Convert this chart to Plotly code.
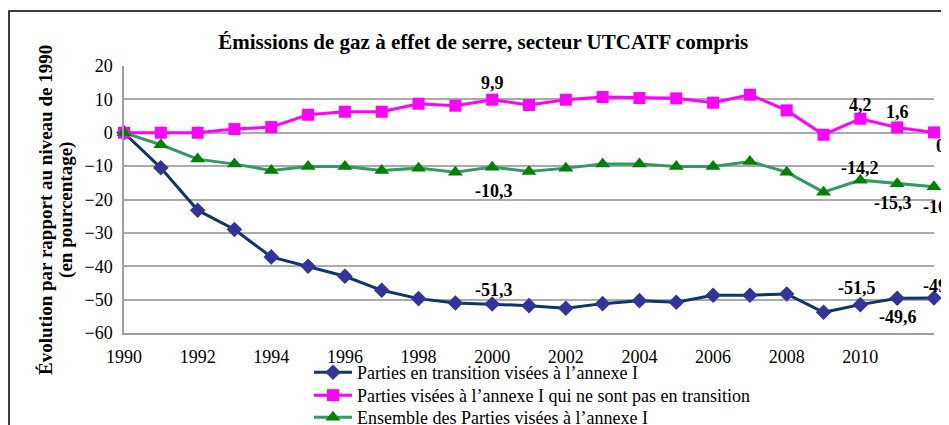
import plotly.graph_objects as go

# data (change vs 1990, in %)
years = list(range(1990, 2013))
transition = [0, -10.5, -23.2, -29.0, -37.2, -40.0, -43.0, -47.2, -49.7, -51.0, -51.3, -51.8,
              -52.6, -51.2, -50.3, -50.8, -48.7, -48.7, -48.3, -53.8, -51.5, -49.6, -49.5]
non_transition = [0, 0, 0, 1.1, 1.7, 5.4, 6.3, 6.3, 8.7, 8.1, 9.9, 8.3,
                  9.9, 10.7, 10.4, 10.3, 9.0, 11.4, 6.7, -0.6, 4.2, 1.6, 0.1]
total = [0, -3.6, -7.9, -9.4, -11.3, -10.1, -10.1, -11.3, -10.6, -11.8, -10.3, -11.6,
         -10.6, -9.4, -9.4, -10.1, -10.1, -8.6, -11.8, -17.8, -14.2, -15.3, -16.2]

names = ["Parties en transition visées à l’annexe I",
         "Parties visées à l’annexe I qui ne sont pas en transition",
         "Ensemble des Parties visées à l’annexe I"]

FONT = "Liberation Serif"

# the page body adds an 8px margin, so the figure is 8px smaller than the window
W, H = 941, 417

fig = go.Figure()
fig.add_trace(go.Scatter(x=years, y=transition, name=names[0], mode="lines+markers",
                         line=dict(color="#10356b", width=3), legend="legend",
                         marker=dict(symbol="diamond", size=12, color="#333399")))
fig.add_trace(go.Scatter(x=years, y=non_transition, name=names[1], mode="lines+markers",
                         line=dict(color="#ff00ff", width=3), legend="legend2",
                         marker=dict(symbol="square", size=12, color="#ff00ff")))
fig.add_trace(go.Scatter(x=years, y=total, name=names[2], mode="lines+markers",
                         line=dict(color="#339966", width=3), legend="legend3",
                         marker=dict(symbol="triangle-up", size=13, color="#008000")))


def fmt(v):
    return f"{v:.1f}".replace(".", ",")


# data labels: (series, year, dx, dy, anchor)
labels = [
    (non_transition, 2000, 0, 17, "center"),
    (non_transition, 2010, 0, 14, "center"),
    (non_transition, 2011, 0, 15, "center"),
    (non_transition, 2012, 0, -14, "left"),
    (total, 2000, 2, -24, "center"),
    (total, 2010, 0, 12, "center"),
    (total, 2011, -4, -19, "center"),
    (total, 2012, -13, -20, "left"),
    (transition, 2000, 2, 14, "center"),
    (transition, 2010, -3, 17, "center"),
    (transition, 2011, 1, -19, "center"),
    (transition, 2012, -13, 12, "left"),
]
for series, yr, dx, dy, anchor in labels:
    v = series[years.index(yr)]
    fig.add_annotation(x=yr, y=v, text="<b>" + fmt(v) + "</b>", showarrow=False, xanchor=anchor,
                       xshift=dx, yshift=dy,
                       font=dict(family=FONT, size=18, color="black"))

# y-axis title, two rotated lines
fig.add_annotation(text="<b>Évolution par rapport au niveau de 1990</b>",
                   xref="paper", yref="paper", x=-0.0963, y=0.461, textangle=-90,
                   showarrow=False, xanchor="center", yanchor="middle",
                   font=dict(family=FONT, size=19, color="black"))
fig.add_annotation(text="<b>(en pourcentage)</b>",
                   xref="paper", yref="paper", x=-0.0716, y=0.461, textangle=-90,
                   showarrow=False, xanchor="center", yanchor="middle",
                   font=dict(family=FONT, size=19, color="black"))

# outer chart border
fig.add_shape(type="rect", xref="paper", yref="paper", x0=-0.142, x1=1.1, y0=-0.5, y1=1.206,
              line=dict(color="black", width=1.5), fillcolor="rgba(0,0,0,0)")

# one legend per row so the row spacing can match the reference
leg = dict(x=0.2284, xanchor="left", yanchor="top", font=dict(family=FONT, size=18),
           bgcolor="rgba(0,0,0,0)", itemwidth=38)

fig.update_layout(
    width=W, height=H,
    margin=dict(l=116, r=15, t=58, b=92, autoexpand=False),
    paper_bgcolor="white", plot_bgcolor="white",
    font=dict(family=FONT, size=18, color="black"),
    title=dict(text="<b>Émissions de gaz à effet de serre, secteur UTCATF compris</b>",
               x=0.505, xanchor="center", y=0.9185, yanchor="middle",
               font=dict(family=FONT, size=21, color="black")),
    xaxis=dict(range=[1990, 2012], tickmode="linear", tick0=1990, dtick=2,
               showgrid=False, showline=True, linecolor="#a0a0a0", linewidth=1.5,
               ticks="", ticklabelstandoff=7, zeroline=False,
               tickfont=dict(family=FONT, size=18)),
    yaxis=dict(range=[-60, 20], tickmode="linear", tick0=-60, dtick=10,
               showgrid=True, gridcolor="#aaaaaa", gridwidth=1.5,
               showline=True, linecolor="#a0a0a0", linewidth=1.5,
               ticks="", ticklabelstandoff=6, zeroline=False,
               tickfont=dict(family=FONT, size=18)),
    legend=dict(leg, y=-0.0787),
    legend2=dict(leg, y=-0.1648),
    legend3=dict(leg, y=-0.2472),
    showlegend=True,
)
for tr in fig.data:
    tr.cliponaxis = False

fig.write_html("out.html")
